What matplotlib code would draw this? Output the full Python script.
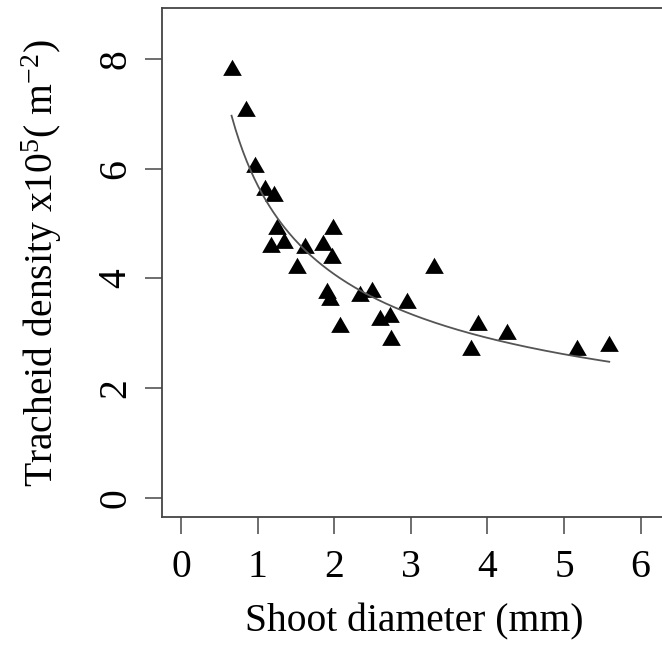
import numpy as np
import matplotlib
matplotlib.use('Agg')
import matplotlib.pyplot as plt

plt.rcParams['font.family'] = ['Liberation Serif', 'DejaVu Serif']
plt.rcParams['mathtext.fontset'] = 'custom'
plt.rcParams['mathtext.rm'] = 'Liberation Serif'
plt.rcParams['mathtext.it'] = 'Liberation Serif:italic'

# shoot diameter (mm) and tracheid density (x10^5 m^-2)
diameter = [0.66, 0.85, 0.97, 1.10, 1.21, 1.25, 1.18, 1.34, 1.51, 1.62,
            1.85, 1.99, 1.97, 1.90, 1.95, 2.08, 2.34, 2.49, 2.60, 2.73,
            2.74, 2.95, 3.30, 3.78, 3.88, 4.25, 5.17, 5.59]
density = [7.80, 7.06, 6.04, 5.61, 5.51, 4.91, 4.58, 4.64, 4.19, 4.55,
           4.61, 4.91, 4.37, 3.73, 3.61, 3.12, 3.68, 3.76, 3.24, 3.30,
           2.88, 3.55, 4.19, 2.70, 3.15, 2.99, 2.70, 2.77]

# power law fit  y = a * x^b
fit_a = 5.70
fit_b = -0.483

xticks = [0, 1, 2, 3, 4, 5, 6]
yticks = [0, 2, 4, 6, 8]

W, H = 662, 645
fig = plt.figure(figsize=(W / 100, H / 100), dpi=100)
# plot region in pixels: left 162, right 667, top 8, bottom 517
left, right, top, bottom = 162.3, 667.0, 8.3, 517.3
ax = fig.add_axes([left / W, (H - bottom) / H, (right - left) / W, (bottom - top) / H])

tri = [(0, 1), (-0.866, -0.5), (0.866, -0.5)]
ax.plot(diameter, density, linestyle='none', marker=tri, markersize=15.5,
        color='black', markeredgewidth=0)

xs = np.linspace(min(diameter), max(diameter), 200)
ax.plot(xs, fit_a * xs ** fit_b, color='#555555', linewidth=1.3)

ax.set_xlim(-0.244, 6.344)
ax.set_ylim(-0.352, 8.924)
ax.set_xticks(xticks)
ax.set_yticks(yticks)
ax.set_xticklabels([str(t) for t in xticks])
ax.set_yticklabels([str(t) for t in yticks], rotation=90, va='center')

for s in ax.spines.values():
    s.set_color('#444444')
    s.set_linewidth(1.3)
ax.tick_params(direction='out', length=12, width=1.2, color='#555555',
               labelsize=28.5, pad=11)
ax.tick_params(axis='y', pad=8)

ax.set_xlabel('Shoot diameter (mm)', fontsize=28.5, labelpad=12)
ax.set_ylabel('Tracheid density x10$^{5}$( m$^{-2}$)', fontsize=28.5, labelpad=24)

fig.savefig('out.png', dpi=100)
